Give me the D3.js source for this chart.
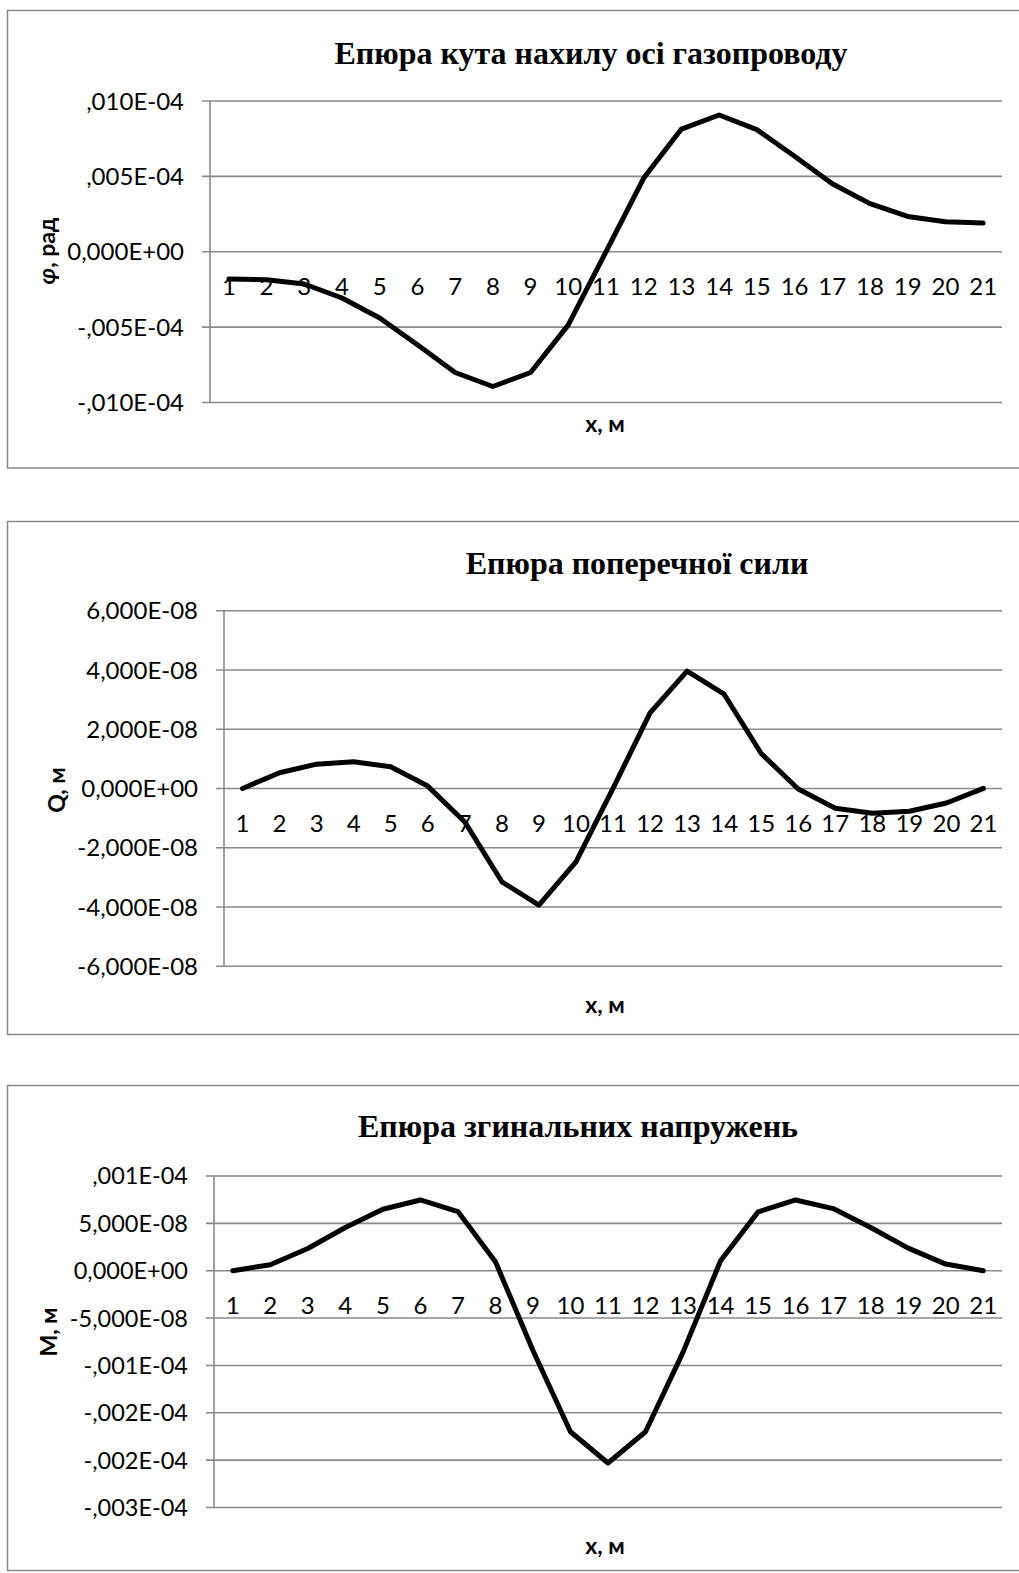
<!DOCTYPE html>
<html><head><meta charset="utf-8">
<script src="https://cdn.jsdelivr.net/npm/d3@7"></script>
<style>
html,body{margin:0;padding:0;background:#fff;}
svg{display:block;}
</style></head>
<body>
<svg id="c" width="1019" height="1573"></svg>
<script>
// ---- DATA ----
const categories = [1,2,3,4,5,6,7,8,9,10,11,12,13,14,15,16,17,18,19,20,21];

// Chart 1: slope angle (units of E-04 rad)
const phiValues = [-0.00181,-0.00186,-0.00214,-0.00307,-0.00440,-0.00617,-0.00801,-0.00894,-0.00801,-0.00485,0.00000,
                   0.00489,0.00814,0.00907,0.00810,0.00633,0.00451,0.00319,0.00234,0.00199,0.00190];
const phiTicks = [0.010,0.005,0,-0.005,-0.010];
const phiTickLabels = [",010E-04",",005E-04","0,000E+00","-,005E-04","-,010E-04"];

// Chart 2: shear force (units of E-08)
const qValues = [0.00,0.53,0.82,0.90,0.73,0.08,-1.13,-3.15,-3.94,-2.48,0.00,
                 2.55,3.96,3.18,1.18,-0.02,-0.67,-0.84,-0.77,-0.49,0.00];
const qTicks = [6,4,2,0,-2,-4,-6];
const qTickLabels = ["6,000E-08","4,000E-08","2,000E-08","0,000E+00","-2,000E-08","-4,000E-08","-6,000E-08"];

// Chart 3: bending (units of E-08)
const mValues = [0.00,0.63,2.35,4.56,6.49,7.47,6.24,0.95,-8.42,-17.0,-20.3,
                 -17.0,-8.6,1.05,6.21,7.47,6.56,4.56,2.39,0.70,0.00];
const mTicks = [10,5,0,-5,-10,-15,-20,-25];
const mTickLabels = [",001E-04","5,000E-08","0,000E+00","-5,000E-08","-,001E-04","-,002E-04","-,002E-04","-,003E-04"];

const titles = ["Епюра кута нахилу осі газопроводу","Епюра поперечної сили","Епюра згинальних напружень"];
const yTitles = ["φ, рад","Q, м","М, м"];
const xTitle = "x, м";

// ---- LAYOUT ----
const charts = [
  {values:phiValues, ticks:phiTicks, labels:phiTickLabels, title:titles[0], yTitle:yTitles[0], italicFirst:true, tickSize:24,
   box:[7,10,1030,467.5], plot:{l:210,r:1002,t:101,b:402.5}, titleXY:[591,64], yTitleXY:[47,251], xTitleY:424},
  {values:qValues, ticks:qTicks, labels:qTickLabels, title:titles[1], yTitle:yTitles[1], tickSize:24,
   box:[7,521,1030,1034], plot:{l:224,r:1002,t:610.7,b:966.2}, titleXY:[637,574], yTitleXY:[57,790], xTitleY:1005},
  {values:mValues, ticks:mTicks, labels:mTickLabels, title:titles[2], yTitle:yTitles[2], tickSize:23.5,
   box:[7,1085,1030,1570], plot:{l:214,r:1002,t:1176,b:1507.5}, titleXY:[578,1137], yTitleXY:[49,1332], xTitleY:1546}
];

const svg = d3.select("#c");
const grid = "#8a8a8a";
const labelFont = "Lato, 'Open Sans', sans-serif";

charts.forEach(cfg => {
  const g = svg.append("g");
  const [bx0, by0, bx1, by1] = cfg.box;
  g.append("rect").attr("x",bx0+0.5).attr("y",by0+0.5).attr("width",bx1-bx0).attr("height",by1-by0)
    .attr("fill","#fff").attr("stroke",grid).attr("stroke-width",1.5);

  const p = cfg.plot;
  const x = d3.scaleBand().domain(categories).range([p.l,p.r]).padding(0);
  const y = d3.scaleLinear().domain([d3.min(cfg.ticks), d3.max(cfg.ticks)]).range([p.b,p.t]);

  // gridlines
  g.append("g").selectAll("line").data(cfg.ticks).join("line")
    .attr("x1",p.l-8).attr("x2",p.r).attr("y1",d=>y(d)).attr("y2",d=>y(d))
    .attr("stroke",grid).attr("stroke-width",1.6);
  // y-axis line
  g.append("line").attr("x1",p.l).attr("x2",p.l).attr("y1",p.t).attr("y2",p.b)
    .attr("stroke",grid).attr("stroke-width",1.6);

  // y tick labels
  g.append("g").selectAll("text").data(cfg.ticks).join("text")
    .attr("x",p.l-26).attr("y",d=>y(d)).attr("dy","0.36em")
    .attr("text-anchor","end").attr("font-family",labelFont).attr("font-size",cfg.tickSize).attr("fill","#000")
    .text((d,i)=>cfg.labels[i]);

  // category labels
  const zeroY = y(0);
  g.append("g").selectAll("text").data(categories).join("text")
    .attr("x",d=>x(d)+x.bandwidth()/2).attr("y",zeroY+35).attr("dy","0.36em")
    .attr("text-anchor","middle").attr("font-family",labelFont).attr("font-size",24).attr("fill","#000")
    .text(d=>d);

  // line
  const line = d3.line().x((d,i)=>x(categories[i])+x.bandwidth()/2).y(d=>y(d));
  g.append("path").datum(cfg.values).attr("d",line).attr("fill","none")
    .attr("stroke","#000").attr("stroke-width",5).attr("stroke-linejoin","round").attr("stroke-linecap","round");

  // title
  g.append("text").attr("x",cfg.titleXY[0]).attr("y",cfg.titleXY[1]).attr("text-anchor","middle")
    .attr("font-family","'Liberation Serif', 'Times New Roman', serif").attr("font-weight","bold")
    .attr("font-size",32).attr("fill","#000").text(cfg.title);

  // y title
  const yt = g.append("text").attr("transform",`translate(${cfg.yTitleXY[0]},${cfg.yTitleXY[1]}) rotate(-90)`)
    .attr("text-anchor","middle").attr("dy","0.36em")
    .attr("font-family",labelFont).attr("font-weight","bold").attr("font-size",23).attr("fill","#000");
  if (cfg.italicFirst) {
    yt.append("tspan").attr("font-style","italic").text(cfg.yTitle.slice(0,1));
    yt.append("tspan").text(cfg.yTitle.slice(1));
  } else {
    yt.text(cfg.yTitle);
  }

  // x title
  g.append("text").attr("x",605).attr("y",cfg.xTitleY).attr("dy","0.36em").attr("text-anchor","middle")
    .attr("font-family",labelFont).attr("font-weight","bold").attr("font-size",23).attr("fill","#000")
    .text(xTitle);
});
</script>
</body></html>
